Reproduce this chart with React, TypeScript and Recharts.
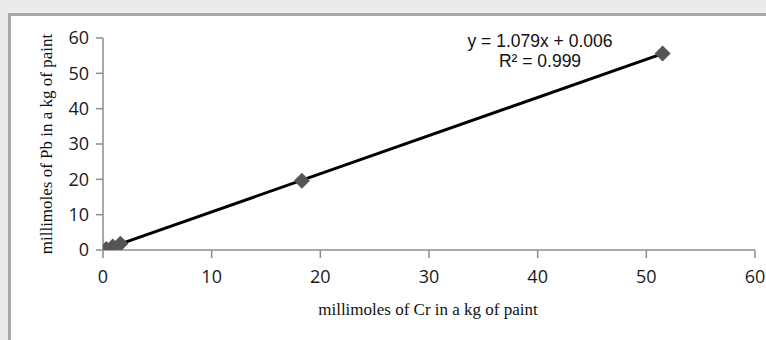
import React from "react";
import { ComposedChart, XAxis, YAxis, Scatter, Line } from "recharts";

const samplesCr = [0.3, 0.9, 1.6, 18.3, 51.5];
const samplesPb = [0.3, 1.0, 1.8, 19.6, 55.6];
const trendCr = [0.3, 51.5];
const trendPb = [0.33, 55.58];
const xTicks = [0, 10, 20, 30, 40, 50, 60];
const yTicks = [0, 10, 20, 30, 40, 50, 60];
const equationText = "y = 1.079x + 0.006";
const r2Text = "R\u00b2 = 0.999";
const xTitle = "millimoles of Cr in a kg of paint";
const yTitle = "millimoles of Pb in a kg of paint";

const points = samplesCr.map((x, i) => ({ x, y: samplesPb[i] }));
const trend = trendCr.map((x, i) => ({ x, y: trendPb[i] }));

const Diamond = (props: any) => {
  const { cx, cy } = props;
  if (cx == null || cy == null) return null;
  const r = 8;
  return (
    <polygon
      points={`${cx},${cy - r} ${cx + r},${cy} ${cx},${cy + r} ${cx - r},${cy}`}
      fill="#555555"
    />
  );
};

const tickStyle = { fontFamily: "'Open Sans', sans-serif", fontSize: 18, fill: "#1a1a1a" };
const titleFont = "'Liberation Serif', 'Times New Roman', serif";

export default function App() {
  return (
    <div
      style={{
        position: "absolute",
        left: 0,
        top: 0,
        width: 766,
        height: 340,
        background: "#ebebeb",
        overflow: "hidden",
      }}
    >
      <div
        style={{
          position: "absolute",
          left: 8,
          top: 13,
          width: 770,
          height: 340,
          background: "#ffffff",
          borderLeft: "3px solid #a8a8a8",
          borderTop: "3px solid #a8a8a8",
          boxSizing: "border-box",
        }}
      />
      <div style={{ position: "absolute", left: 0, top: 0 }}>
        <ComposedChart
          width={766}
          height={340}
          margin={{ top: 38, right: 11, bottom: 50, left: 43 }}
        >
          <XAxis
            type="number"
            dataKey="x"
            domain={[0, 60]}
            ticks={xTicks}
            interval={0}
            allowDataOverflow
            height={40}
            stroke="#8c8c8c"
            strokeWidth={1.5}
            tickSize={8}
            tickMargin={12}
            tick={tickStyle}
          />
          <YAxis
            type="number"
            dataKey="y"
            domain={[0, 60]}
            ticks={yTicks}
            interval={0}
            allowDataOverflow
            width={60}
            stroke="#8c8c8c"
            strokeWidth={1.5}
            tickSize={7}
            tickMargin={7}
            tick={tickStyle}
          />
          <Scatter
            data={points}
            dataKey="y"
            shape={Diamond}
            isAnimationActive={false}
          />
          <Line
            data={trend}
            dataKey="y"
            type="linear"
            stroke="#000000"
            strokeWidth={3}
            dot={false}
            activeDot={false}
            isAnimationActive={false}
          />
        </ComposedChart>
      </div>
      <div
        style={{
          position: "absolute",
          left: 440,
          top: 31,
          width: 200,
          textAlign: "center",
          fontFamily: "'Liberation Sans', Arial, sans-serif",
          fontSize: 17.5,
          lineHeight: "20px",
          color: "#111",
        }}
      >
        <div>{equationText}</div>
        <div>{r2Text}</div>
      </div>
      <div
        style={{
          position: "absolute",
          left: 228,
          top: 300,
          width: 400,
          textAlign: "center",
          fontFamily: titleFont,
          fontSize: 17,
          color: "#111",
        }}
      >
        {xTitle}
      </div>
      <div
        style={{
          position: "absolute",
          left: 47,
          top: 144,
          width: 0,
          height: 0,
        }}
      >
        <div
          style={{
            position: "absolute",
            left: -200,
            top: -10,
            width: 400,
            height: 20,
            lineHeight: "20px",
            textAlign: "center",
            transform: "rotate(-90deg)",
            fontFamily: titleFont,
            fontSize: 17,
            color: "#111",
            whiteSpace: "nowrap",
          }}
        >
          {yTitle}
        </div>
      </div>
    </div>
  );
}
